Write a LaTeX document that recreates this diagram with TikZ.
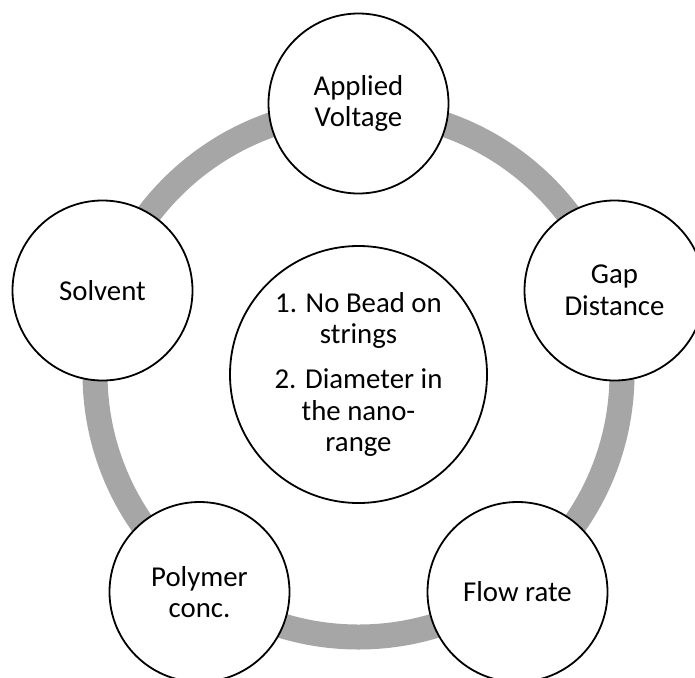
\documentclass[tikz,border=0pt]{standalone}
\usepackage{fontspec}
\setmainfont{Carlito}
\definecolor{ringgray}{HTML}{A6A6A6}
\begin{document}
\begin{tikzpicture}[x=1pt,y=-1pt,
  ring/.style={draw=ringgray,line width=25pt},
  factor/.style={circle,draw=black,fill=white,line width=1.8pt,minimum size=180pt,inner sep=0pt,align=center,
    font=\fontsize{28.8}{31.7}\selectfont},
  goal/.style={circle,draw=black,fill=white,line width=1.8pt,minimum size=257pt,inner sep=0pt,align=center,
    font=\fontsize{28.8}{31.7}\selectfont}]
\useasboundingbox (0,0) rectangle (695,677);
\coordinate (c) at (358.5,373.5);
\draw[ring] (c) circle (263.5);
\node[goal] (g) at (358.5,374.5) {1. No Bead on\\strings\\[13pt]2. Diameter in\\the nano-\\range};
\node[factor] (av) at (358.5,103.5) {Applied\\Voltage};
\node[factor] (gd) at (614.5,290.5) {Gap\\Distance};
\node[factor] (fr) at (517.5,592) {Flow rate};
\node[factor] (pc) at (199.5,592) {Polymer\\conc.};
\node[factor] (sv) at (102.5,290.5) {Solvent};
\end{tikzpicture}
\end{document}
